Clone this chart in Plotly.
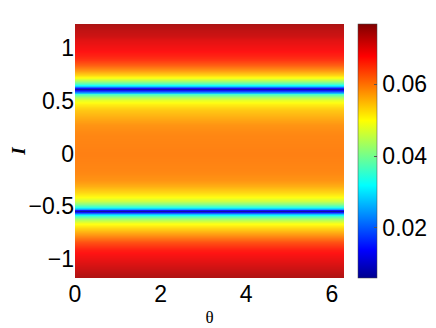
import plotly.graph_objects as go

# profile along I (values same for every theta)
I_vals = [1.23, 1.17, 1.12, 1.08, 1.03, 0.98, 0.93, 0.89, 0.84, 0.79, 0.75, 0.72,
          0.69, 0.66, 0.64, 0.62, 0.61, 0.60, 0.58, 0.565, 0.535, 0.51, 0.47, 0.41,
          0.35, 0.27, 0.175, 0.0, -0.16, -0.25, -0.31, -0.36, -0.41, -0.45, -0.48,
          -0.51, -0.525, -0.535, -0.545, -0.555, -0.575, -0.59, -0.62, -0.66, -0.71,
          -0.77, -0.84, -0.91, -0.99, -1.07, -1.12, -1.18]
profile = [0.074, 0.0725, 0.0715, 0.070, 0.069, 0.068, 0.0665, 0.065, 0.062, 0.058, 0.053, 0.049,
           0.043, 0.036, 0.028, 0.014, 0.007, 0.013, 0.027, 0.036, 0.043, 0.048, 0.051, 0.054,
           0.056, 0.058, 0.059, 0.0595, 0.059, 0.058, 0.056, 0.053, 0.050, 0.046, 0.041,
           0.034, 0.025, 0.014, 0.007, 0.014, 0.027, 0.036, 0.043, 0.049, 0.053,
           0.058, 0.063, 0.067, 0.069, 0.071, 0.0725, 0.074]
theta = [0, 6.2832]

z = [[v for _ in theta] for v in profile]

jet = [[0.0, 'rgb(0,0,143)'], [0.11, 'rgb(0,0,255)'], [0.365, 'rgb(0,255,255)'],
       [0.62, 'rgb(255,255,0)'], [0.873, 'rgb(255,0,0)'], [1.0, 'rgb(128,0,0)']]

tickfont = dict(family='Liberation Sans, Arial', size=23, color='black')

fig = go.Figure()
fig.add_trace(go.Heatmap(
    x=theta, y=I_vals, z=z, colorscale=jet, zmin=0.0061, zmax=0.0767, zsmooth='best',
    opacity=0.92,
    colorbar=dict(x=1.052, xanchor='left', y=0.5, len=1.0, lenmode='fraction',
                  thickness=19, outlinewidth=0.5, outlinecolor='#444',
                  tickvals=[0.02, 0.04, 0.06], ticktext=['0.02', '0.04', '0.06'],
                  ticks='inside', ticklen=3, tickcolor='#555', ypad=0, xpad=0,
                  tickfont=tickfont)
))

# page body has an 8px margin, so the figure is sized to fit the window
fig.update_layout(
    width=428, height=320,
    margin=dict(l=67, r=92, t=16, b=50, autoexpand=False),
    paper_bgcolor='white', plot_bgcolor='white',
    xaxis=dict(range=[0, 6.2832], tickvals=[0, 2, 4, 6], showgrid=False, zeroline=False,
               ticks='', tickfont=tickfont, automargin=False,
               title=dict(text='θ', font=dict(family='Liberation Serif, Times New Roman', size=17, color='black'),
                          standoff=5)),
    yaxis=dict(range=[-1.18, 1.23], tickvals=[-1, -0.5, 0, 0.5, 1], showgrid=False, zeroline=False,
               ticks='', tickfont=tickfont, automargin=False,
               title=dict(text='<b><i>I</i></b>', font=dict(family='Liberation Serif, Times New Roman', size=19, color='black'),
                          standoff=16)),
)

fig.write_html("out.html")
